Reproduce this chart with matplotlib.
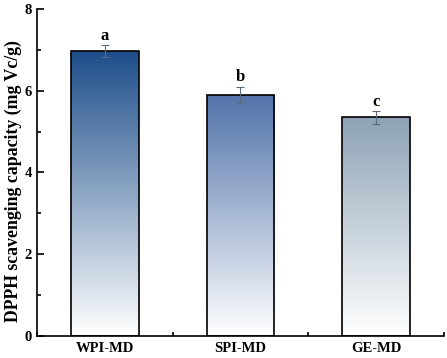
import numpy as np
import matplotlib.pyplot as plt
from matplotlib.colors import LinearSegmentedColormap
from matplotlib.ticker import MultipleLocator

samples = ['WPI-MD', 'SPI-MD', 'GE-MD']
dpph = [6.97, 5.90, 5.35]
dpph_err = [0.15, 0.20, 0.16]
letters = ['a', 'b', 'c']
top_colors = ['#1d4e8a', '#5273aa', '#8ea3b6']

plt.rcParams['font.family'] = ['Liberation Serif', 'DejaVu Serif']
plt.rcParams['font.weight'] = 'bold'

fig = plt.figure(figsize=(4.47, 3.58), dpi=100)
ax = fig.add_axes([0.083, 0.0615, 0.91, 0.9135])

x = np.arange(1, len(samples) + 1)
bars = ax.bar(x, dpph, width=0.5, facecolor='none', edgecolor='black',
              linewidth=1.2, zorder=3)

# vertical gradient fill, clipped to each bar
grad = np.linspace(1, 0, 256).reshape(-1, 1)
for bar, c in zip(bars, top_colors):
    cmap = LinearSegmentedColormap.from_list('g', ['#ffffff', c])
    bx, bw, bh = bar.get_x(), bar.get_width(), bar.get_height()
    im = ax.imshow(grad, cmap=cmap, vmin=0, vmax=1, aspect='auto',
                   extent=[bx, bx + bw, 0, bh], zorder=2)
    im.set_clip_path(bar)

ax.errorbar(x, dpph, yerr=dpph_err, fmt='none', ecolor='#5a6a80',
            elinewidth=0.8, capsize=3, capthick=0.8, zorder=4)

for xi, v, e, l in zip(x, dpph, dpph_err, letters):
    ax.text(xi, v + e + 0.03, l, ha='center', va='bottom',
            fontsize=12, fontweight='bold')

ax.set_xlim(0.5, 3.5)
ax.set_ylim(0, 8)
ax.set_xticks(x)
ax.set_xticklabels(samples)
ax.xaxis.set_minor_locator(MultipleLocator(0.5))
ax.yaxis.set_major_locator(MultipleLocator(2))
ax.yaxis.set_minor_locator(MultipleLocator(1))
ax.tick_params(which='both', direction='in', labelsize=10.5, width=1.2)
ax.tick_params(which='major', length=5)
ax.tick_params(which='minor', length=3)
ax.tick_params(axis='x', pad=4)
for s in ['top', 'right']:
    ax.spines[s].set_visible(False)
for s in ['left', 'bottom']:
    ax.spines[s].set_linewidth(1.2)
ax.set_ylabel('DPPH scavenging capacity (mg Vc/g)', fontsize=12.8,
              fontweight='bold')
ax.yaxis.set_label_coords(-0.038, 0.473)

fig.savefig('out.png', dpi=100)
